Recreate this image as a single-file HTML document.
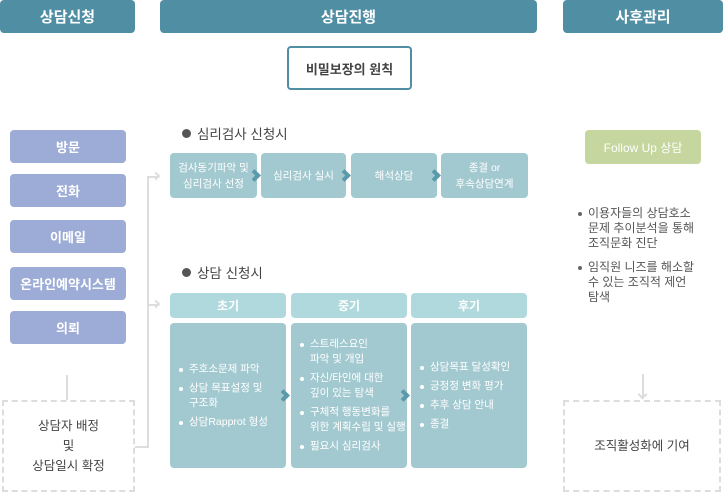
<!DOCTYPE html>
<html><head><meta charset="utf-8"><style>
*{margin:0;padding:0;box-sizing:border-box}
body{width:723px;height:493px;background:#fff;position:relative;overflow:hidden;font-family:"Liberation Sans","Noto Sans CJK KR",sans-serif}
.a{position:absolute}
.hd{position:absolute;top:0;height:33px;background:#4f8ea3;color:#fff;font-weight:bold;font-size:15px;display:flex;align-items:center;justify-content:center;border-radius:4px}
.lb{position:absolute;left:10px;width:116px;height:33px;background:#9dacd6;color:#fff;font-weight:bold;font-size:13px;display:flex;align-items:center;justify-content:center;border-radius:4px}
.st{position:absolute;top:153px;height:45px;background:#a3c9d0;color:#fff;font-size:10.5px;line-height:16px;display:flex;align-items:center;justify-content:center;text-align:center;border-radius:4px}
.ph{position:absolute;top:293px;height:25px;background:#b0d9de;color:#fff;font-weight:bold;font-size:12px;display:flex;align-items:center;justify-content:center;border-radius:4px}
.pc{position:absolute;top:323px;height:145px;background:#a3c9d0;color:#fff;font-size:10.5px;line-height:15px;display:flex;flex-direction:column;justify-content:center;border-radius:4px;padding-left:7px}
.pc div{padding-left:12px;position:relative;margin:2px 0}
.pc div:before{content:"";position:absolute;left:2px;top:6px;width:4px;height:4px;border-radius:50%;background:#fff}
.ch{position:absolute;width:9px;height:9px;border-top:4px solid #5b9aaa;border-right:4px solid #5b9aaa;transform:rotate(45deg)}
.tt{position:absolute;font-size:13.5px;color:#444}
.tt:before{content:"";display:inline-block;width:9px;height:9px;border-radius:50%;background:#555;margin-right:6px;vertical-align:1px}
.rb{position:absolute;left:577px;width:140px;font-size:12px;color:#555;line-height:15px;padding-left:11px}
.rb:before{content:"";position:absolute;left:1px;top:6px;width:4px;height:4px;border-radius:50%;background:#666}
.dash{position:absolute;border:2px dashed #ddd;color:#444;font-size:12.5px;display:flex;align-items:center;justify-content:center;text-align:center;line-height:20px}
</style></head><body>
<div class="hd" style="left:0;width:135px">상담신청</div>
<div class="hd" style="left:160px;width:377px">상담진행</div>
<div class="hd" style="left:563px;width:160px">사후관리</div>
<div class="a" style="left:287px;top:46px;width:125px;height:44px;border:2px solid #4f8ea3;border-radius:4px;display:flex;align-items:center;justify-content:center;font-weight:bold;font-size:13px;color:#444">비밀보장의 원칙</div>

<div class="lb" style="top:130px">방문</div>
<div class="lb" style="top:174px">전화</div>
<div class="lb" style="top:220px">이메일</div>
<div class="lb" style="top:267px">온라인예약시스템</div>
<div class="lb" style="top:311px">의뢰</div>
<div class="a" style="left:66px;top:375px;width:2px;height:25px;background:#ddd"></div>
<div class="dash" style="left:2px;top:400px;width:133px;height:92px">상담자 배정<br>및<br>상담일시 확정</div>

<div class="a" style="left:135px;top:446px;width:13px;height:2px;background:#ddd"></div>
<div class="a" style="left:147px;top:176px;width:2px;height:272px;background:#ddd"></div>
<div class="a" style="left:147px;top:176px;width:12px;height:2px;background:#ddd"></div>
<div class="a" style="left:147px;top:304px;width:12px;height:2px;background:#ddd"></div>
<div class="a" style="left:153px;top:173px;width:6px;height:6px;border-top:2px solid #ddd;border-right:2px solid #ddd;transform:rotate(45deg)"></div>
<div class="a" style="left:153px;top:301px;width:6px;height:6px;border-top:2px solid #ddd;border-right:2px solid #ddd;transform:rotate(45deg)"></div>

<div class="tt" style="left:182px;top:123px">심리검사 신청시</div>
<div class="st" style="left:170px;width:87px">검사동기파악 및<br>심리검사 선정</div>
<div class="st" style="left:261px;width:85px">심리검사 실시</div>
<div class="st" style="left:351px;width:86px">해석상담</div>
<div class="st" style="left:441px;width:87px">종결 or<br>후속상담연계</div>
<div class="ch" style="left:250px;top:171px"></div>
<div class="ch" style="left:340px;top:171px"></div>
<div class="ch" style="left:430px;top:171px"></div>

<div class="tt" style="left:182px;top:262px">상담 신청시</div>
<div class="ph" style="left:170px;width:116px">초기</div>
<div class="ph" style="left:291px;width:116px">중기</div>
<div class="ph" style="left:411px;width:116px">후기</div>
<div class="pc" style="left:170px;width:116px"><div>주호소문제 파악</div><div>상담 목표설정 및<br>구조화</div><div>상담Rapprot 형성</div></div>
<div class="pc" style="left:291px;width:116px"><div>스트레스요인<br>파악 및 개입</div><div>자신/타인에 대한<br>깊이 있는 탐색</div><div>구체적 행동변화를<br>위한 계획수립 및 실행</div><div>필요시 심리검사</div></div>
<div class="pc" style="left:411px;width:116px"><div>상담목표 달성확인</div><div>긍정정 변화 평가</div><div>추후 상담 안내</div><div>종결</div></div>
<div class="ch" style="left:279px;top:391px"></div>
<div class="ch" style="left:399px;top:391px"></div>

<div class="a" style="left:585px;top:130px;width:116px;height:34px;background:#c5d69e;border-radius:4px;color:#fff;font-size:12px;display:flex;align-items:center;justify-content:center">Follow Up 상담</div>
<div class="rb" style="top:206px">이용자들의 상담호소<br>문제 추이분석을 통해<br>조직문화 진단</div>
<div class="rb" style="top:260px">임직원 니즈를 해소할<br>수 있는 조직적 제언<br>탐색</div>
<div class="a" style="left:642px;top:374px;width:2px;height:24px;background:#ddd"></div>
<div class="a" style="left:639px;top:391px;width:7px;height:7px;border-bottom:2px solid #ddd;border-right:2px solid #ddd;transform:rotate(45deg)"></div>
<div class="dash" style="left:563px;top:400px;width:158px;height:92px">조직활성화에 기여</div>
</body></html>
